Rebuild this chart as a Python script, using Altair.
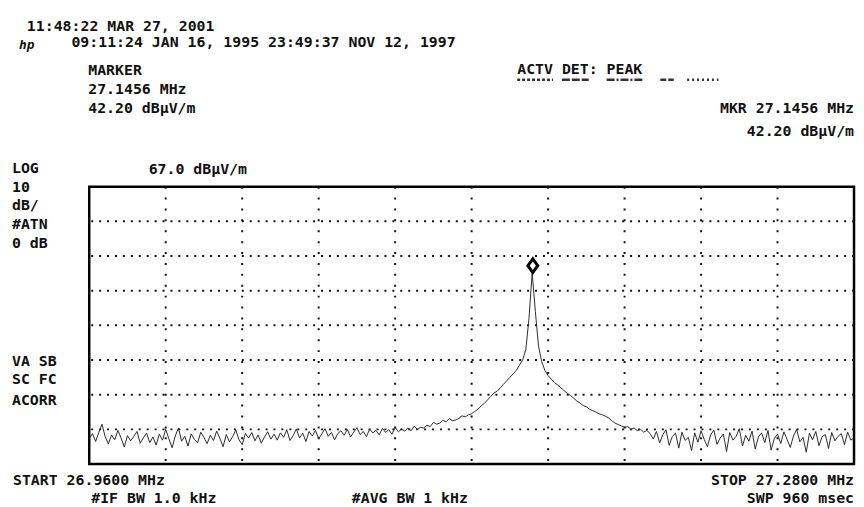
import altair as alt
import pandas as pd

# ---- instrument settings / data ----
START_MHZ = 26.96
STOP_MHZ = 27.28
REF_LEVEL = 67.0
DB_PER_DIV = 10
N_XDIV = 10
N_YDIV = 8
MARKER_FREQ = [27.1456]
MARKER_LEVEL = [42.20]

trace_db = [
    -5.8, -4.2, -6.5, -3.9, -1.5, -5.1, -7.2, -4.6, -6.0, -3.3, -5.5, -8.1, -4.8, -6.3, -5.0, -3.6, -7.0, -5.4, -4.1, -6.8,
    -5.2, -7.5, -4.4, -6.1, -3.0, -5.7, -8.3, -4.9, -2.6, -6.4, -5.0, -7.8, -4.3, -5.9, -6.9, -3.8, -5.3, -7.1, -4.7, -6.2,
    -3.5, -5.6, -8.0, -4.5, -6.6, -5.1, -3.2, -6.0, -7.4, -4.2, -5.5, -3.9, -6.3, -4.6, -7.0, -5.2, -3.7, -5.8, -4.4, -6.1,
    -4.0, -5.3, -3.1, -6.2, -4.8, -2.9, -5.5, -4.1, -6.5, -3.6, -4.9, -3.3, -5.7, -4.3, -2.8, -5.0, -3.9, -6.0, -4.2, -3.4,
    -4.7, -3.0, -5.2, -3.8, -2.5, -4.5, -3.6, -5.1, -2.9, -4.0, -3.3, -4.6, -2.7, -3.9, -3.1, -4.4, -2.4, -3.7, -2.9, -3.5,
    -2.6, -3.4, -2.1, -3.0, -2.4,
    -2.6, -1.8, -2.2, -1.0, -1.5, -1.2, -0.4, -0.8, 0.1, -0.5, -0.3, 0.2, 0.9, 0.6, 1.2, 1.5, 2.2, 2.8, 3.8, 4.5,
    5.5, 6.5, 7.5, 8.0, 9.0, 10.0, 11.0, 12.0, 13.0, 14.0, 15.5, 17.0, 20.0, 29.0, 42.2,
    31.0, 21.0, 16.5, 14.0, 12.5, 11.5, 10.5, 9.8, 9.0, 8.2, 7.4, 6.8, 6.0, 5.2, 4.6, 3.9, 3.5, 2.8, 2.4, 2.0,
    1.5, 1.2, 0.8, 0.3, -0.5, -1.2, -1.6, -2.0, -2.4, -2.2, -3.0, -2.6, -3.4, -3.0, -3.8, -3.3,
    -4.2, -5.8, -3.6, -6.9, -4.5, -3.1, -7.6, -5.0, -4.1, -8.4, -3.8, -6.2, -5.3, -9.1, -4.0, -6.7, -3.4, -5.9, -8.0, -4.6,
    -3.2, -7.3, -5.5, -4.3, -9.4, -3.9, -6.1, -5.0, -2.8, -7.8, -4.7, -6.4, -3.5, -8.7, -5.2, -4.0, -6.8, -3.3, -9.0, -5.6,
    -4.4, -7.1, -3.7, -5.9, -8.2, -4.9, -3.0, -6.6, -5.3, -9.6, -4.1, -6.0, -3.6, -7.7, -5.1, -4.5, -8.5, -3.9, -6.3, -5.0,
    -4.2, -7.4, -3.8, -6.1, -5.4,
]

header_texts = ["11:48:22 MAR 27, 2001", "09:11:24 JAN 16, 1995 23:49:37 NOV 12, 1997"]
logo_text = "hp"
marker_texts = ["MARKER", "27.1456 MHz", "42.20 dB\u00b5V/m"]
detector_text = "ACTV DET: PEAK"
mkr_texts = ["MKR 27.1456 MHz", "42.20 dB\u00b5V/m"]
scale_texts = ["LOG", "10", "dB/", "#ATN", "0 dB"]
ref_text = "67.0 dB\u00b5V/m"
status_texts = ["VA SB", "SC FC", "ACORR"]
bottom_left = ["START 26.9600 MHz", "#IF BW 1.0 kHz", "#AVG BW 1 kHz"]
bottom_right = ["STOP 27.2800 MHz", "SWP 960 msec"]

# ---- build tables ----
n = len(trace_db)
span = STOP_MHZ - START_MHZ
freq = [START_MHZ + span * i / (n - 1) for i in range(n)]
trace = pd.DataFrame({"freq": freq, "level": trace_db})
marker = pd.DataFrame({"freq": MARKER_FREQ, "level": MARKER_LEVEL})

x_grid = [START_MHZ + span * k / N_XDIV for k in range(1, N_XDIV)]
y_bottom = REF_LEVEL - DB_PER_DIV * N_YDIV
y_grid = [REF_LEVEL - DB_PER_DIV * k for k in range(1, N_YDIV)]

FONT = "DejaVu Sans Mono"
FS = 15
PLOT_W, PLOT_H = 772, 280

xscale = alt.Scale(domain=[START_MHZ, STOP_MHZ], nice=False, zero=False)
yscale = alt.Scale(domain=[y_bottom, REF_LEVEL], nice=False, zero=False)

no_axis_x = alt.Axis(labels=False, ticks=False, domain=False, grid=False, title=None)
no_axis_y = alt.Axis(labels=False, ticks=False, domain=False, grid=False, title=None)

# graticule drawn as dotted rules through the scales
vgrid = alt.Chart(pd.DataFrame({"f": x_grid})).mark_rule(
    color="#111", strokeWidth=2, strokeDash=[2, 9]
).encode(x=alt.X("f:Q", scale=xscale, axis=no_axis_x))
hgrid = alt.Chart(pd.DataFrame({"d": y_grid})).mark_rule(
    color="#111", strokeWidth=2, strokeDash=[2, 6]
).encode(y=alt.Y("d:Q", scale=yscale, axis=no_axis_y))

line = alt.Chart(trace).mark_line(color="#2a2a2a", strokeWidth=1, clip=True).encode(
    x=alt.X("freq:Q", scale=xscale, axis=no_axis_x),
    y=alt.Y("level:Q", scale=yscale, axis=no_axis_y),
)

mk = alt.Chart(marker).mark_point(
    shape="M0,-1L0.72,0L0,1L-0.72,0Z", size=190, filled=False, stroke="black",
    strokeWidth=3, fill="white", fillOpacity=1
).encode(x="freq:Q", y="level:Q", yOffset=alt.value(-7))


def txt(s, x, y, align="left", color="#111", size=FS, style="normal"):
    return alt.Chart(pd.DataFrame({"t": [s]})).mark_text(
        font=FONT, fontSize=size, fontWeight="bold", align=align, baseline="alphabetic",
        color=color, fontStyle=style
    ).encode(text="t:N", x=alt.value(x), y=alt.value(y))


def uline(x1, x2, y, dash):
    return alt.Chart(pd.DataFrame({"u": [0]})).mark_rule(
        color="#333", strokeWidth=2.5, strokeDash=dash
    ).encode(x=alt.value(x1), x2=alt.value(x2), y=alt.value(y))


layers = [vgrid, hgrid, line, mk]
# header
layers.append(txt(header_texts[0], -63, -157))
layers.append(txt(logo_text, -71, -139, size=13, style="italic"))
layers.append(txt(header_texts[1], -18, -141))
# marker block
for s, yy in zip(marker_texts, [-113, -94, -74]):
    layers.append(txt(s, -1, yy))
layers.append(txt(detector_text, 432, -114))
# detector underlines (relative to the text's character cells)
cw = 0.602 * FS
layers.append(uline(432, 432 + 4 * cw, -108, [3, 2]))
layers.append(uline(432 + 5 * cw, 432 + 8 * cw, -108, [8, 2]))
layers.append(uline(432 + 10 * cw, 432 + 14 * cw, -108, [8, 2, 2, 2]))
layers.append(uline(432 + 16 * cw, 432 + 17.5 * cw, -108, [6, 2]))
layers.append(uline(432 + 19 * cw, 432 + 22.5 * cw, -108, [2, 3]))
for s, yy in zip(mkr_texts, [-74, -51]):
    layers.append(txt(s, 772, yy, align="right"))
# left scale labels
for s, yy in zip(scale_texts, [-14, 5, 24, 43, 62]):
    layers.append(txt(s, -78, yy))
layers.append(txt(ref_text, 60, -13))
for s, yy in zip(status_texts, [181, 199, 220]):
    layers.append(txt(s, -78, yy))
# bottom
layers.append(txt(bottom_left[0], -77, 301))
layers.append(txt(bottom_left[1], 2, 319))
layers.append(txt(bottom_left[2], 265, 319))
layers.append(txt(bottom_right[0], 772, 301, align="right"))
layers.append(txt(bottom_right[1], 772, 319, align="right"))

chart = alt.layer(*layers).properties(
    width=PLOT_W, height=PLOT_H,
    padding={"left": 82, "top": 178, "right": 2, "bottom": 41},
    autosize=alt.AutoSizeParams(type="none"),
    background="white",
).configure_view(stroke="black", strokeWidth=2.5)

chart.save("out.html", embed_options={"renderer": "svg", "actions": False})
